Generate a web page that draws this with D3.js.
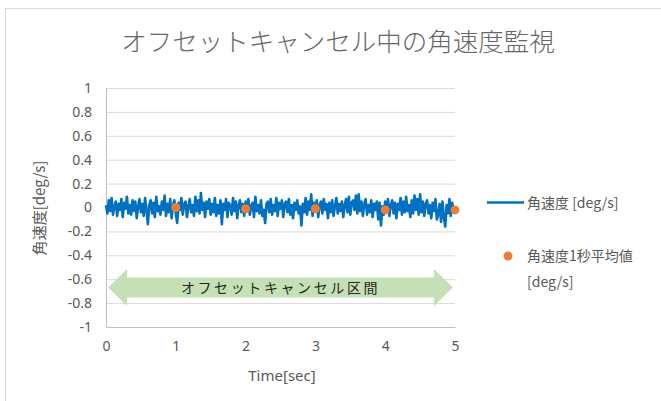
<!DOCTYPE html>
<html>
<head>
<meta charset="utf-8">
<title>オフセットキャンセル中の角速度監視</title>
<style>
  body { margin: 0; background: #fff; }
  svg { display: block; font-family: "Noto Sans CJK JP", "Noto Sans", sans-serif; }
</style>
</head>
<body>
<script src="https://cdn.jsdelivr.net/npm/d3@7"></script>
<script>

// sample interval of the raw signal [sec]
var dt = 0.02;

// raw angular velocity [deg/s], one value every dt from 0 to 5 sec
var omega = [
   0.02, -0.05,  0.06, -0.03,  0.08, -0.06,  0.01,  0.05, -0.07,  0.03,
  -0.02,  0.07, -0.08,  0.04, -0.01,  0.09, -0.05,  0.02, -0.06,  0.06,
  -0.03,  0.05, -0.09,  0.01,  0.07, -0.04,  0.03, -0.07,  0.08, -0.02,
  -0.14,  0.02,  0.06, -0.05,  0.04, -0.08,  0.09, -0.03,  0.01, -0.06,
   0.05, -0.02,  0.10, -0.07,  0.03, -0.04,  0.07, -0.09,  0.02,  0.06,
  -0.05, -0.13,  0.04, -0.02,  0.08, -0.06,  0.03,  0.05, -0.08,  0.01,
   0.07, -0.04,  0.02, -0.07,  0.09, -0.03,  0.06, -0.05,  0.12, -0.02,
   0.04, -0.08,  0.05, -0.01,  0.07, -0.06,  0.03, -0.04,  0.08, -0.07,
   0.02, -0.05,  0.06, -0.14,  0.03, -0.02,  0.07, -0.08,  0.04,  0.01,
  -0.06,  0.08, -0.03,  0.05, -0.09,  0.02,  0.06, -0.04,  0.03, -0.07,
   0.05, -0.02,  0.07, -0.06,  0.01,  0.04, -0.08,  0.09, -0.03,  0.02,
  -0.05,  0.06, -0.07, -0.02, -0.13,  0.03,  0.05, -0.04,  0.07, -0.06,
   0.02, -0.03,  0.08, -0.07,  0.04, -0.01,  0.06, -0.08,  0.03,  0.05,
  -0.04,  0.07, -0.06,  0.02, -0.09,  0.04, -0.02,  0.06, -0.05,  0.01,
  -0.15,  0.03, -0.04,  0.08, -0.06,  0.05, -0.02,  0.11, -0.07,  0.04,
  -0.03,  0.06, -0.08,  0.02,  0.05, -0.05,  0.07, -0.02,  0.03, -0.09,
   0.04, -0.04,  0.06, -0.07,  0.01,  0.08, -0.05,  0.03, -0.03,  0.05,
  -0.08,  0.02,  0.07, -0.04,  0.09, -0.06,  0.04,  0.06, -0.02,  0.10,
  -0.05,  0.11, -0.03,  0.05, -0.07,  0.03,  0.07, -0.06,  0.02, -0.04,
   0.06, -0.08,  0.03, -0.02,  0.05, -0.10,  0.04, -0.15,  0.01, -0.06,
   0.05, -0.03,  0.07, -0.07,  0.02,  0.06, -0.05,  0.04, -0.09,  0.03,
  -0.02,  0.08, -0.06,  0.05, -0.04,  0.09, -0.03,  0.02, -0.08,  0.06,
  -0.05,  0.10, -0.02,  0.07, -0.06,  0.11, -0.04,  0.05, -0.07,  0.03,
   0.06, -0.05,  0.02, -0.09,  0.04, -0.03,  0.07, -0.10, -0.06,  0.03,
  -0.12,  0.05, -0.08, -0.16,  0.02, -0.05,  0.07, -0.07,  0.04, -0.03,
   0.01
];

// 1 second averages
var avgTime  = [1, 2, 3, 4, 5];
var avgValue = [0.00, -0.01, -0.01, -0.02, -0.02];

var xTicks = [0, 1, 2, 3, 4, 5];
var yTicks = [-1, -0.8, -0.6, -0.4, -0.2, 0, 0.2, 0.4, 0.6, 0.8, 1];

// offset cancel interval (arrow annotation)
var cancelSpan  = [0.03, 4.97];
var cancelLevel = -0.67;

var W = 661, H = 401;
var margin = {top: 88, right: 206, bottom: 74, left: 106},
    width  = W - margin.left - margin.right,
    height = H - margin.top - margin.bottom;

var svg = d3.select("body").append("svg")
    .attr("width", W)
    .attr("height", H);

// chart frame (runs out of the window at right / bottom)
svg.append("rect")
    .attr("x", 5.5).attr("y", 8.5)
    .attr("width", W + 20).attr("height", H + 20)
    .attr("fill", "#fff")
    .attr("stroke", "#d9d9d9");

svg.append("text")
    .attr("x", 338).attr("y", 51)
    .attr("text-anchor", "middle")
    .style("font-size", "25.5px")
    .style("font-weight", 300)
    .style("fill", "#666")
    .text("オフセットキャンセル中の角速度監視");

var g = svg.append("g")
    .attr("transform", `translate(${margin.left},${margin.top})`);

var x = d3.scaleLinear().domain([0, 5]).range([0, width]);
var y = d3.scaleLinear().domain([-1, 1]).range([height, 0]);

// horizontal gridlines
g.selectAll(".grid")
    .data(yTicks.filter(d => d > -1))
  .enter().append("line")
    .attr("class", "grid")
    .attr("x1", 0).attr("x2", width)
    .attr("y1", d => y(d) + 0.5).attr("y2", d => y(d) + 0.5)
    .attr("stroke", "#d9d9d9")
    .attr("stroke-width", 1);

// Excel style labels: plain hyphen for negatives
var fmt = d => String(+d.toFixed(1));

var xAxis = g.append("g")
    .attr("transform", `translate(0,${y(-1)})`)
    .call(d3.axisBottom(x).tickValues(xTicks).tickSize(0).tickPadding(14).tickFormat(fmt));
var yAxis = g.append("g")
    .call(d3.axisLeft(y).tickValues(yTicks).tickSize(0).tickPadding(14).tickFormat(fmt));

[xAxis, yAxis].forEach(a => {
  a.select(".domain").attr("stroke", "#bfbfbf");
  a.selectAll("text").style("font-size", "14px").style("fill", "#595959")
    .style("font-family", "\"Noto Sans\", sans-serif");
});

// raw signal
var line = d3.line()
    .x((d, i) => x(i * dt))
    .y(d => y(d));

g.append("path")
    .datum(omega)
    .attr("d", line)
    .attr("fill", "none")
    .attr("stroke", "#0070c0")
    .attr("stroke-width", 2.6)
    .attr("stroke-linejoin", "round");

// 1 second averages
g.selectAll(".avg")
    .data(avgTime)
  .enter().append("circle")
    .attr("class", "avg")
    .attr("cx", d => x(d))
    .attr("cy", (d, i) => y(avgValue[i]))
    .attr("r", 4.5)
    .attr("fill", "#ed7d31");

// double headed arrow for the cancel interval
var ax0 = x(cancelSpan[0]), ax1 = x(cancelSpan[1]), ay = y(cancelLevel),
    headLen = 19, headH = 18.5, bodyH = 10;
var arrowPts = [
  [ax0, ay],
  [ax0 + headLen, ay - headH],
  [ax0 + headLen, ay - bodyH],
  [ax1 - headLen, ay - bodyH],
  [ax1 - headLen, ay - headH],
  [ax1, ay],
  [ax1 - headLen, ay + headH],
  [ax1 - headLen, ay + bodyH],
  [ax0 + headLen, ay + bodyH],
  [ax0 + headLen, ay + headH]
];
g.append("path")
    .attr("d", "M" + arrowPts.join("L") + "Z")
    .attr("fill", "#c5e0b4");

g.append("text")
    .attr("x", (ax0 + ax1) / 2)
    .attr("y", ay + 5)
    .attr("text-anchor", "middle")
    .style("font-size", "14px")
    .style("letter-spacing", "2.6px")
    .style("fill", "#262626")
    .text("オフセットキャンセル区間");

// axis titles
svg.append("text")
    .attr("x", 282).attr("y", 381)
    .attr("text-anchor", "middle")
    .style("font-size", "15px")
    .style("fill", "#595959")
    .style("font-family", "\"Noto Sans\", sans-serif")
    .text("Time[sec]");

svg.append("text")
    .attr("transform", "translate(45,208) rotate(-90)")
    .attr("text-anchor", "middle")
    .style("font-size", "15px")
    .style("fill", "#595959")
    .text("角速度[deg/s]");

// legend
var lg = svg.append("g");
lg.append("line")
    .attr("x1", 487).attr("x2", 524)
    .attr("y1", 202.5).attr("y2", 202.5)
    .attr("stroke", "#0070c0").attr("stroke-width", 2.5);
lg.append("text")
    .attr("x", 527).attr("y", 208)
    .style("font-size", "14px").style("fill", "#595959")
    .text("角速度 [deg/s]");
lg.append("circle")
    .attr("cx", 508).attr("cy", 256).attr("r", 4.5)
    .attr("fill", "#ed7d31");
lg.append("text")
    .attr("x", 527).attr("y", 261)
    .style("font-size", "14px").style("fill", "#595959")
    .text("角速度1秒平均値");
lg.append("text")
    .attr("x", 527).attr("y", 287)
    .style("font-size", "14px").style("fill", "#595959")
    .text("[deg/s]");

</script>
</body>
</html>
